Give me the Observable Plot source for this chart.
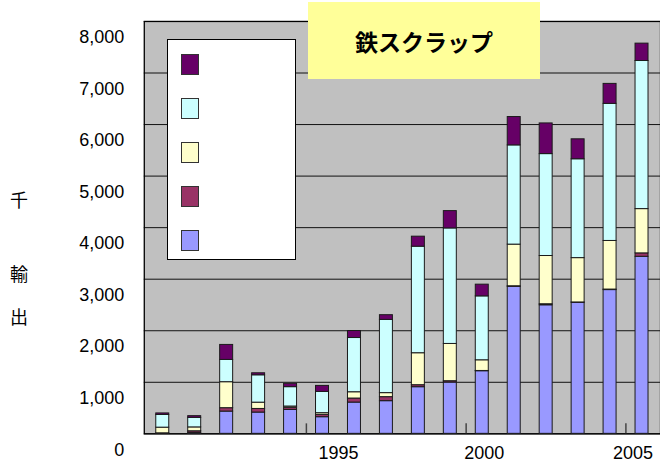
<!DOCTYPE html>
<html>
<head>
<meta charset="utf-8">
<script src="https://cdn.jsdelivr.net/npm/d3@7"></script>
<script src="https://cdn.jsdelivr.net/npm/@observablehq/plot@0.6"></script>
<style>
  html, body { margin: 0; padding: 0; background: #fff; overflow: hidden; }
  #wrap { position: relative; width: 660px; height: 475px; overflow: hidden; }
  #chart svg { display: block; }
  .title {
    position: absolute; left: 308px; top: 2px; width: 232px; height: 77px;
    background: #ffff99; display: flex; align-items: center; justify-content: center;
    font-family: "Noto Sans CJK JP", sans-serif; font-weight: bold; font-size: 23px; color: #000;
  }
  .legend {
    position: absolute; left: 167px; top: 39px; width: 129px; height: 221px;
    background: #fff; border: 1px solid #000; box-sizing: border-box;
  }
  .sw { position: absolute; left: 13px; width: 18px; height: 21px; box-sizing: border-box; border: 1px solid #333; }
  .ychar {
    position: absolute; left: 8px; width: 22px; text-align: center;
    font-family: "Noto Sans CJK JP", sans-serif; font-size: 18px; color: #000; line-height: 1;
  }
</style>
</head>
<body>
<div id="wrap">
  <div id="chart"></div>
</div>
<script>
// ---- data (thousand tonnes) ----
const years = [1990,1991,1992,1993,1994,1995,1996,1997,1998,1999,2000,2001,2002,2003,2004,2005];
// series, bottom to top of each stack
const seriesNames = ["s1","s2","s3","s4","s5"];
const s1 = [5, 20, 432, 413, 465, 323, 607, 634, 905, 995, 1215, 2853, 2494, 2544, 2789, 3435];
const s2 = [5, 30, 66, 70, 40, 45, 78, 78, 39, 26, 5, 10, 20, 5, 10, 66];
const s3 = [110, 75, 504, 122, 25, 33, 122, 78, 620, 723, 207, 808, 936, 860, 943, 859];
const s4 = [246, 185, 432, 531, 376, 413, 1052, 1421, 2067, 2241, 1240, 1925, 1977, 1918, 2660, 2873];
const s5 = [30, 33, 291, 39, 65, 116, 136, 91, 194, 336, 227, 550, 595, 387, 387, 337];
const seriesColors = ["#9999ff", "#993366", "#ffffcc", "#ccffff", "#660066"];
const yTicks = [0,1000,2000,3000,4000,5000,6000,7000,8000];
const xLabels = [1995, 2000, 2005];
const titleText = "鉄スクラップ";
const yLabelChars = ["千", "輸", "出"];

// ---- build table ----
const seriesValues = [s1, s2, s3, s4, s5];
const rows = [];
seriesNames.forEach((name, si) => {
  years.forEach((yr, i) => rows.push({year: yr, series: name, value: seriesValues[si][i]}));
});

// layout tweaks for the x labels (offset from band centre, as in the reference)
const xLabelDx = {1995: 16, 2000: 2, 2005: -9};

const chart = Plot.plot({
  width: 661,
  height: 475,
  marginLeft: 144,
  marginRight: 0,
  marginTop: 21,
  marginBottom: 41,
  style: {fontFamily: "'Liberation Sans', Arial, sans-serif", fontSize: "18px", background: "transparent", overflow: "visible"},
  x: {type: "band", domain: years, paddingInner: 0.58, paddingOuter: 0.29, axis: null},
  y: {domain: [0, 8000], axis: null},
  color: {domain: seriesNames, range: seriesColors},
  marks: [
    Plot.frame({fill: "#c0c0c0", stroke: "none"}),
    Plot.gridY(yTicks, {stroke: "#111", strokeOpacity: 1, strokeWidth: 1}),
    Plot.frame({stroke: "#000", strokeWidth: 1.3}),
    Plot.ruleX(xLabels, {x: d => d, dx: -16.15, insetTop: 403, stroke: "#444", strokeWidth: 1.5}),
    Plot.barY(rows, Plot.stackY({
      x: "year", y: "value", fill: "series", order: seriesNames,
      stroke: "#1a1a1a", strokeWidth: 1
    })),
    Plot.axisY(yTicks, {
      tickFormat: d3.format(","), tickSize: 0, tickPadding: 20, dy: 16,
      fontSize: 18, fill: "#000", label: null
    }),
    ...xLabels.map(v => Plot.text([v], {
      x: d => d, text: d => String(d), frameAnchor: "bottom", dy: 25, dx: xLabelDx[v],
      fontSize: 18, fill: "#000"
    }))
  ]
});
document.getElementById("chart").appendChild(chart);

const wrap = document.getElementById("wrap");
// title box
const t = document.createElement("div");
t.className = "title";
t.textContent = titleText;
wrap.appendChild(t);

// legend (top entry = top of stack)
const lg = document.createElement("div");
lg.className = "legend";
const legendOrder = seriesNames.slice().reverse();
legendOrder.forEach((name, i) => {
  const sw = document.createElement("div");
  sw.className = "sw";
  sw.style.top = (14 + i * 44) + "px";
  sw.style.background = seriesColors[seriesNames.indexOf(name)];
  lg.appendChild(sw);
});
wrap.appendChild(lg);

// vertical y-axis label characters
const yCharTops = [190, 264, 307];
yLabelChars.forEach((ch, i) => {
  const d = document.createElement("div");
  d.className = "ychar";
  d.style.top = yCharTops[i] + "px";
  d.textContent = ch;
  wrap.appendChild(d);
});
</script>
</body>
</html>
